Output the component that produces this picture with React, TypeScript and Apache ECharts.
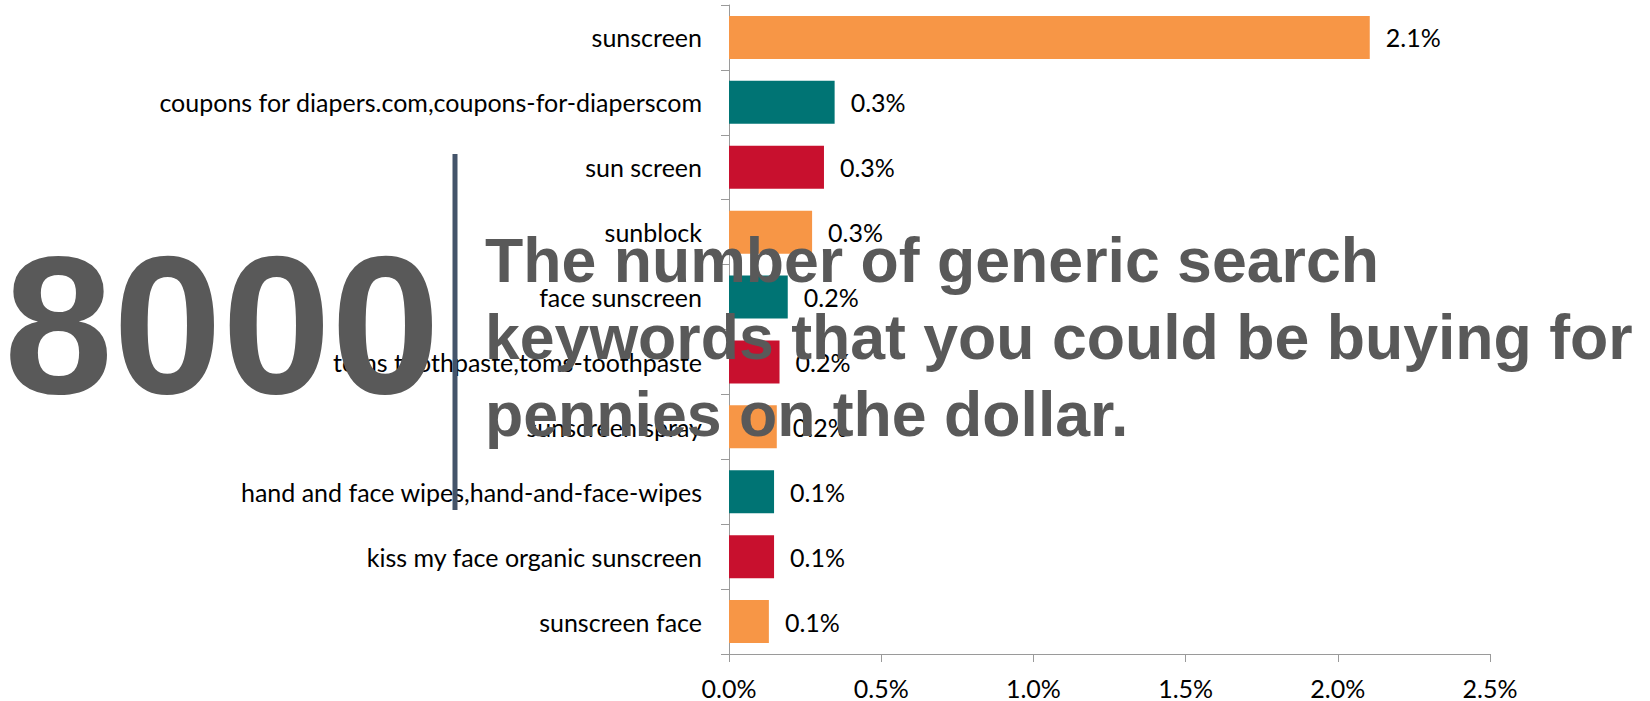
import React, { useEffect, useRef } from "react";
import * as echarts from "echarts";

const categories = [
  "sunscreen",
  "coupons for diapers.com,coupons-for-diaperscom",
  "sun screen",
  "sunblock",
  "face sunscreen",
  "toms toothpaste,toms-toothpaste",
  "sunscreen spray",
  "hand and face wipes,hand-and-face-wipes",
  "kiss my face organic sunscreen",
  "sunscreen face",
];
const shares = [2.105, 0.347, 0.312, 0.273, 0.193, 0.166, 0.157, 0.148, 0.148, 0.131];
const barColors = ["#F79646", "#007474", "#C8102E"];
const xTicks = { min: 0, max: 2.5, interval: 0.5 };
const bigNumber = "8000";
const headline = "The number of generic search\nkeywords that you could be buying for\npennies on the dollar.";

export default function App() {
  const ref = useRef<HTMLDivElement>(null);
  useEffect(() => {
    if (!ref.current) return;
    const chart = echarts.init(ref.current, null, { renderer: "svg" });
    const labelFont = "Lato, 'DejaVu Sans', sans-serif";
    chart.setOption({
      animation: false,
      backgroundColor: "#ffffff",
      grid: { left: 729, right: 160, top: 5, bottom: 47, containLabel: false },
      xAxis: {
        type: "value",
        min: xTicks.min,
        max: xTicks.max,
        interval: xTicks.interval,
        axisLine: { show: true, lineStyle: { color: "#9a9a9a", width: 1 } },
        axisTick: { show: true, length: 8, lineStyle: { color: "#9a9a9a" } },
        splitLine: { show: false },
        axisLabel: {
          formatter: (v: number) => v.toFixed(1) + "%",
          color: "#000000",
          fontSize: 25,
          fontFamily: labelFont,
          margin: 21,
        },
      },
      yAxis: {
        type: "category",
        inverse: true,
        data: categories,
        axisLine: { show: true, lineStyle: { color: "#9a9a9a", width: 1 } },
        axisTick: { show: true, length: 8, lineStyle: { color: "#9a9a9a" } },
        axisLabel: {
          color: "#000000",
          fontSize: 25,
          fontFamily: labelFont,
          margin: 27,
        },
      },
      series: [
        {
          type: "bar",
          data: shares.map((v, i) => ({
            value: v,
            itemStyle: { color: barColors[i % 3] },
          })),
          barWidth: 43,
          label: {
            show: true,
            position: "right",
            distance: 16,
            color: "#000000",
            fontSize: 25,
            fontFamily: labelFont,
            formatter: (p: any) => Number(p.value).toFixed(1) + "%",
          },
        },
      ],
      graphic: [
        {
          type: "text",
          z: 100,
          x: 222,
          y: 325.5,
          style: {
            text: bigNumber,
            align: "center",
            verticalAlign: "middle",
            fill: "#595959",
            font: "bold 196px 'Liberation Sans', Arial, sans-serif",
          },
        },
        {
          type: "line",
          z: 100,
          shape: { x1: 455, y1: 154, x2: 455, y2: 510 },
          style: { stroke: "#44546A", lineWidth: 5 },
        },
        {
          type: "text",
          z: 100,
          x: 485,
          y: 221,
          style: {
            text: headline,
            align: "left",
            verticalAlign: "top",
            lineHeight: 77,
            fill: "#595959",
            font: "bold 62.6px 'Liberation Sans', Arial, sans-serif",
          },
        },
      ],
    });
    return () => chart.dispose();
  }, []);
  return (
    <div
      ref={ref}
      style={{ position: "fixed", left: 0, top: 0, width: 1650, height: 701 }}
    />
  );
}
